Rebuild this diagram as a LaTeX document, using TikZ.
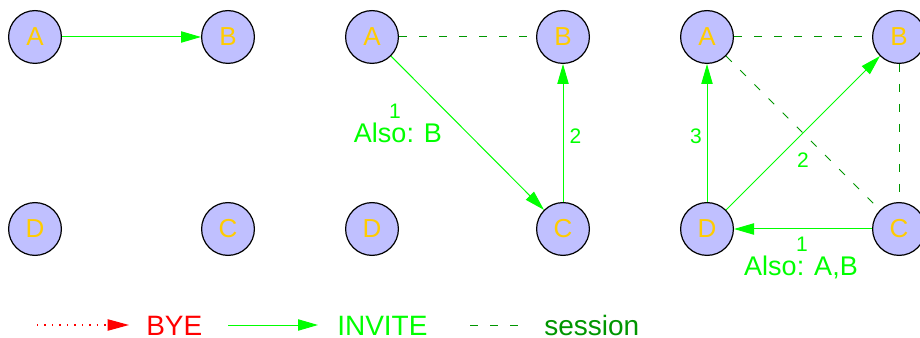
\documentclass[tikz,border=0pt]{standalone}
\usepackage{fontspec}
\setmainfont{Liberation Sans}
\usetikzlibrary{arrows.meta}
\definecolor{nodefill}{RGB}{192,192,255}
\definecolor{labelgold}{RGB}{255,204,0}
\definecolor{invitegreen}{RGB}{0,255,0}
\definecolor{sessiongreen}{RGB}{0,150,0}
\definecolor{byered}{RGB}{255,0,0}
\begin{document}
\begin{tikzpicture}[x=0.75pt,y=-0.75pt,
  peer/.style={circle,draw=black,line width=0.9pt,fill=nodefill,
    minimum size=39.6pt,inner sep=0pt,text=labelgold,
    font=\fontsize{19.5}{20}\selectfont},
  invite/.style={draw=invitegreen,line width=0.75pt,
    -{Triangle[length=15pt,width=8.5pt]}},
  session/.style={draw=sessiongreen,line width=0.75pt,
    dash pattern=on 6pt off 9pt},
  bye/.style={draw=byered,line width=0.9pt,dash pattern=on 1pt off 4.6pt,
    -{Triangle[length=16pt,width=8.5pt]}},
  msg/.style={text=invitegreen,inner sep=0pt,anchor=base,
    font=\fontsize{15.75}{16}\selectfont},
  also/.style={text=invitegreen,inner sep=0pt,anchor=base,
    font=\fontsize{20.25}{21}\selectfont},
  legendtext/.style={inner sep=0pt,anchor=base west,
    font=\fontsize{21}{22}\selectfont}]
\useasboundingbox (0,0) rectangle (920,338);
\clip (0,0) rectangle (920,338);

% first stage: A invites B
\node[peer] (A1) at (35,37) {A};
\node[peer] (B1) at (228,37) {B};
\node[peer] (D1) at (35,229) {D};
\node[peer] (C1) at (228,229) {C};
\draw[invite] (A1) -- (B1);

% second stage: A invites C, C invites B
\node[peer] (A2) at (372,37) {A};
\node[peer] (B2) at (563,37) {B};
\node[peer] (D2) at (372,229) {D};
\node[peer] (C2) at (563,229) {C};
\draw[session] (A2) -- (B2);
\draw[invite] (A2) -- (C2);
\draw[invite] (C2) -- (B2);
\node[msg] (m21) at (395,119) {1};
\node[also] (m21b) at (398,143) {Also: B};
\node[msg] (m22) at (575.5,144) {2};

% third stage: C invites D, D invites B and A
\node[peer] (A3) at (707,37) {A};
\node[peer] (B3) at (899,37) {B};
\node[peer] (D3) at (707,229) {D};
\node[peer] (C3) at (899,229) {C};
\draw[session] (A3) -- (B3);
\draw[session] (A3) -- (C3);
\draw[session] (B3) -- (C3);
\draw[invite] (C3) -- (D3);
\draw[invite] (D3) -- (B3);
\draw[invite] (D3) -- (A3);
\node[msg] (m33) at (696,144) {3};
\node[msg] (m32) at (803,168) {2};
\node[msg] (m31) at (802,252) {1};
\node[also] (m31b) at (801,275) {Also: A,B};

% legend
\coordinate (byeS) at (37,325);
\coordinate (byeE) at (129,325);
\coordinate (invS) at (228,325);
\coordinate (invE) at (318,325);
\coordinate (sesS) at (470,325);
\coordinate (sesE) at (519,325);
\draw[bye] (byeS) -- (byeE);
\draw[invite] (invS) -- (invE);
\draw[session] (sesS) -- (sesE);
\node[legendtext,text=byered] (lbye) at (146,335) {BYE};
\node[legendtext,text=invitegreen] (linv) at (337,335) {INVITE};
\node[legendtext,text=sessiongreen] (lses) at (544,335) {session};
\end{tikzpicture}
\end{document}
